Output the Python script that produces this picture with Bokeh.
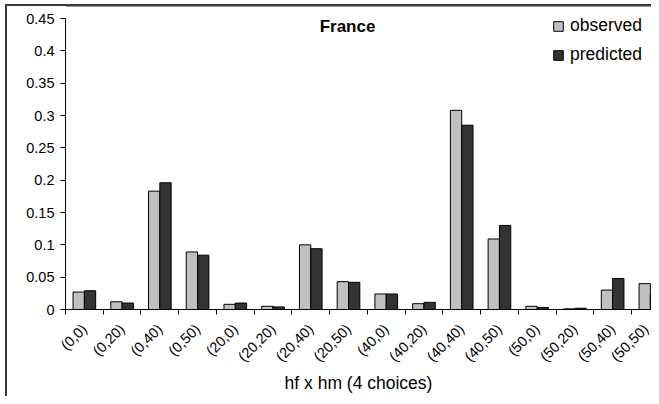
from bokeh.plotting import figure
from bokeh.models import ColumnDataSource, FixedTicker, CustomJSTickFormatter, Label, Span
from bokeh.transform import dodge
from bokeh.embed import file_html
from bokeh.resources import INLINE
from math import pi

categories = ["(0,0)", "(0,20)", "(0,40)", "(0,50)", "(20,0)", "(20,20)", "(20,40)", "(20,50)",
              "(40,0)", "(40,20)", "(40,40)", "(40,50)", "(50,0)", "(50,20)", "(50,40)", "(50,50)"]
observed = [0.027, 0.012, 0.183, 0.089, 0.008, 0.005, 0.100, 0.043,
            0.024, 0.009, 0.308, 0.109, 0.005, 0.001, 0.030, 0.040]
predicted = [0.029, 0.010, 0.196, 0.084, 0.010, 0.004, 0.094, 0.042,
             0.024, 0.011, 0.285, 0.130, 0.003, 0.002, 0.048, 0.022]
y_ticks = [0, 0.05, 0.1, 0.15, 0.2, 0.25, 0.3, 0.35, 0.4, 0.45]
y_max = 0.45
y_top = y_max * 305 / 291

xs = list(range(len(categories)))
src = ColumnDataSource(dict(x=xs, cat=categories, obs=observed, pred=predicted))

FONT = "Liberation Sans"
BORDER = "#3a3a3a"

# frame extends a little above the 0.45 tick so the title/legend are not clipped
p = figure(width=651, height=396, output_backend="svg", toolbar_location=None,
           x_range=(-0.5, 15.03), y_range=(0, y_top),
           min_border_left=65, min_border_right=0, min_border_top=4, min_border_bottom=87)
p.outline_line_color = None
p.xgrid.visible = False
p.ygrid.visible = False
p.background_fill_color = None
p.border_fill_color = None
p.styles = {
    "background-color": "white",
    "background-image": "linear-gradient(%s, %s), linear-gradient(%s, %s)" % (BORDER, BORDER, BORDER, BORDER),
    "background-position": "5px 4px, 5px 4px",
    "background-size": "2px 392px, 646px 2px",
    "background-repeat": "no-repeat, no-repeat",
}

# chart-area top border across the plot area
p.add_layout(Span(location=y_top, dimension="width", line_color=BORDER, line_width=4))

p.vbar(x=dodge("x", -0.15), top="obs", width=0.3, source=src,
       fill_color="#c0c0c0", line_color="black", line_width=1, legend_label="observed")
p.vbar(x=dodge("x", 0.15), top="pred", width=0.3, source=src,
       fill_color="#333333", line_color="black", line_width=1, legend_label="predicted")

# x axis
xa = p.xaxis[0]
xa.ticker = FixedTicker(ticks=xs, minor_ticks=[i - 0.5 for i in range(len(categories) + 1)])
xa.major_label_overrides = {i: c for i, c in zip(xs, categories)}
xa.major_label_orientation = pi / 4
xa.major_tick_line_color = None
xa.major_tick_out = 5
xa.major_tick_in = 0
xa.minor_tick_line_color = "black"
xa.minor_tick_out = 5
xa.minor_tick_in = 0
xa.axis_line_color = "black"
xa.major_label_text_font = FONT
xa.major_label_text_font_size = "14.5px"
xa.major_label_text_color = "black"
xa.major_label_standoff = 12
xa.axis_label = "hf x hm (4 choices)"
xa.axis_label_text_font = FONT
xa.axis_label_text_font_size = "17.5px"
xa.axis_label_text_font_style = "normal"
xa.axis_label_text_color = "black"
xa.axis_label_standoff = 0

# y axis
ya = p.yaxis[0]
ya.ticker = FixedTicker(ticks=y_ticks)
ya.bounds = (0, y_max)
ya.formatter = CustomJSTickFormatter(code="return (Math.round(tick*100)/100).toString();")
ya.minor_tick_line_color = None
ya.major_tick_out = 5
ya.major_tick_in = 0
ya.major_tick_line_color = "black"
ya.axis_line_color = "black"
ya.major_label_text_font = FONT
ya.major_label_text_font_size = "14.5px"
ya.major_label_text_color = "black"
ya.major_label_standoff = 6

# title inside plot area
title = Label(x=282, y=283, x_units="screen", y_units="screen", text="France",
              text_font=FONT, text_font_size="17px", text_font_style="bold",
              text_align="center", text_baseline="middle", text_color="black")
p.add_layout(title)

lg = p.legend[0]
lg.location = (487, 244)
lg.padding = 0
lg.margin = 0
lg.spacing = 8
lg.glyph_width = 12
lg.glyph_height = 12
lg.label_standoff = 6
lg.label_text_font = FONT
lg.label_text_font_size = "17.5px"
lg.label_text_color = "black"
lg.background_fill_alpha = 0
lg.border_line_color = None

open("out.html", "w").write(file_html(p, INLINE))
